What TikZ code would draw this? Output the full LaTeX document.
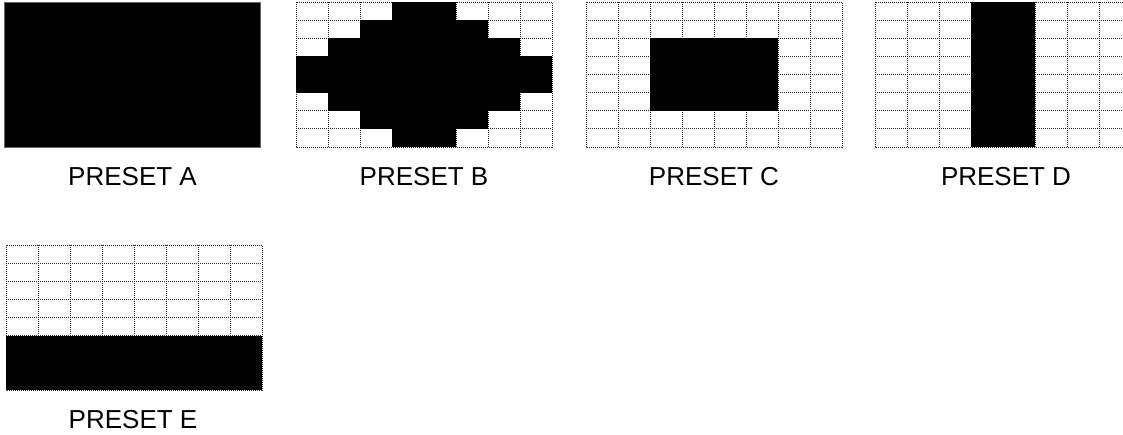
\documentclass[tikz,border=0pt]{standalone}
\usepackage{fontspec}
\setmainfont{Liberation Sans}
\tikzset{
  gridline/.style={densely dotted, line width=1pt, black!85},
  blk/.style={fill=black, draw=none},
  lbl/.style={anchor=base, inner sep=0pt, font=\fontsize{26}{30}\selectfont},
}
\newcommand\presetgrid[3]{%
  \begin{scope}[shift={(#1,#2)}, x=32pt, y=-18.125pt]
    \foreach \i in {1,...,7} \draw[gridline] (\i,0) -- (\i,8);
    \foreach \j in {1,...,7} \draw[gridline] (0,\j) -- (8,\j);
    \draw[gridline] (0,0) rectangle (8,8);
    #3
  \end{scope}}
\begin{document}
\begin{tikzpicture}[x=1pt, y=-1pt]
\useasboundingbox (0,0) rectangle (1123,434);
\clip (0,0) rectangle (1123,434);
% PRESET A
\begin{scope}[shift={(4,2)}, x=32pt, y=-18.125pt]
  \draw[fill=black, draw=black!60, line width=0.6pt] (0,0) rectangle (8,8);
\end{scope}
% PRESET B
\presetgrid{296}{2}{%
  \fill[blk] (3,0) rectangle (5,1);
  \fill[blk] (2,1) rectangle (6,2);
  \fill[blk] (1,2) rectangle (7,3);
  \fill[blk] (0,3) rectangle (8,5);
  \fill[blk] (1,5) rectangle (7,6);
  \fill[blk] (2,6) rectangle (6,7);
  \fill[blk] (3,7) rectangle (5,8);}
% PRESET C
\presetgrid{586}{2}{\fill[blk] (2,2) rectangle (6,6);}
% PRESET D
\presetgrid{875}{2}{\fill[blk] (3,0) rectangle (5,8);}
% PRESET E
\presetgrid{6}{245}{\fill[blk] (0,5) rectangle (8,8);}
% labels
\node[lbl] (labA) at (132.5,185) {PRESET A};
\node[lbl] (labB) at (424,185) {PRESET B};
\node[lbl] (labC) at (714,185) {PRESET C};
\node[lbl] (labD) at (1006,185) {PRESET D};
\node[lbl] (labE) at (133,428) {PRESET E};
\end{tikzpicture}
\end{document}
